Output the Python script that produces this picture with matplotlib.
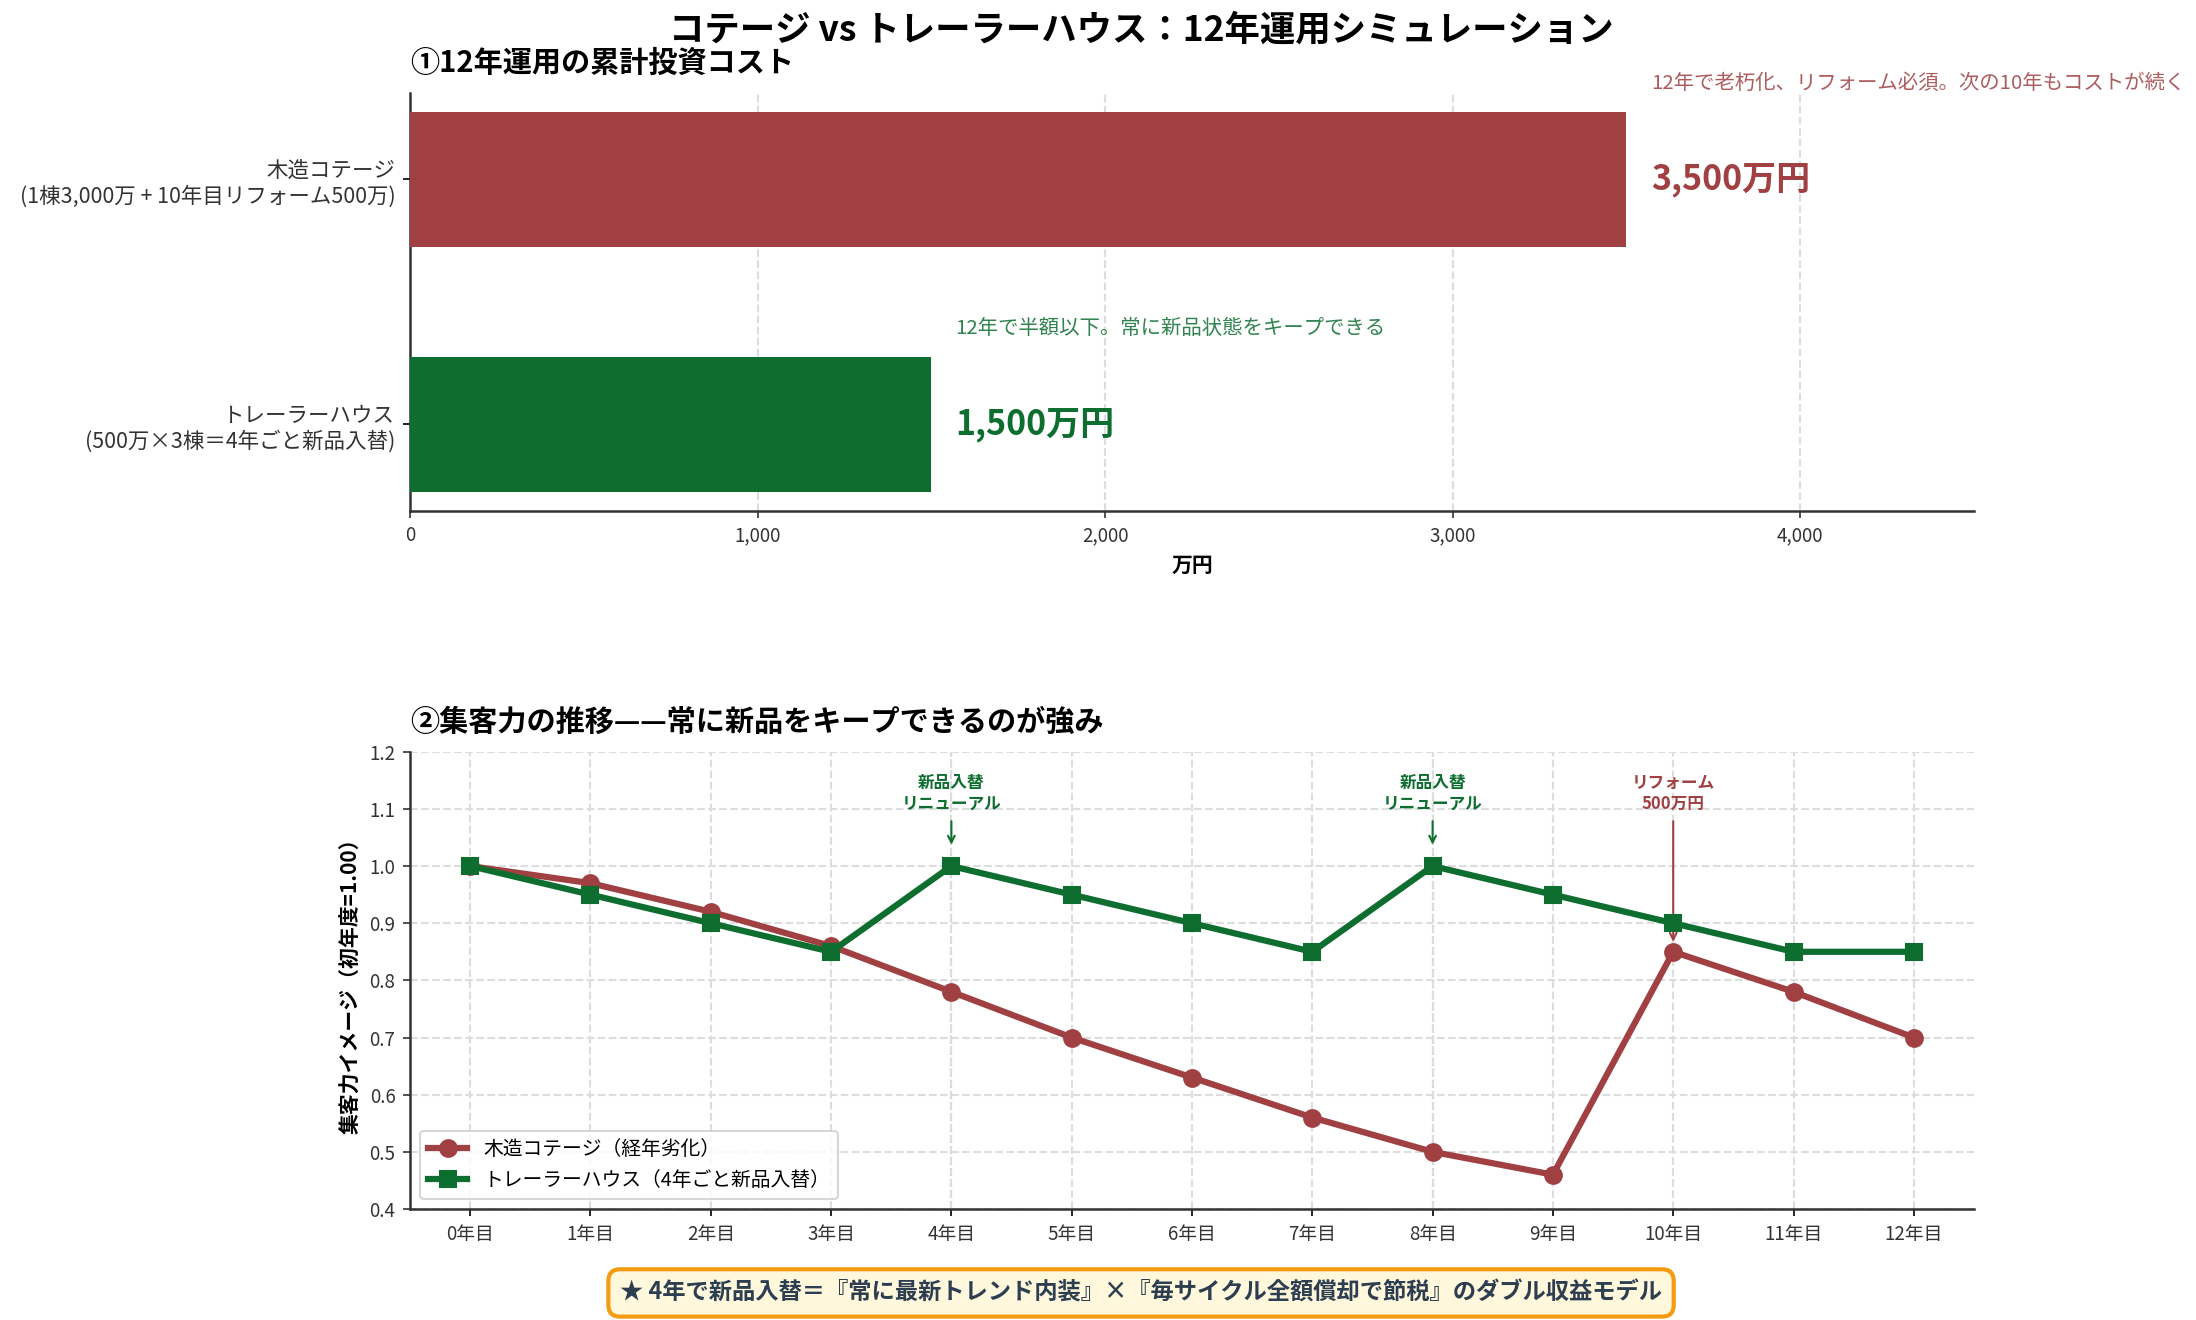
import matplotlib
matplotlib.use("Agg")
import matplotlib.pyplot as plt
from matplotlib.ticker import FuncFormatter, MultipleLocator

plt.rcParams['font.family'] = ['Noto Sans CJK JP', 'DejaVu Sans']

# ---------------- data ----------------
categories = ['木造コテージ\n(1棟3,000万 + 10年目リフォーム500万)',
              'トレーラーハウス\n(500万×3棟＝4年ごと新品入替)']
costs = [3500, 1500]
notes = ['12年で老朽化、リフォーム必須。次の10年もコストが続く',
         '12年で半額以下。常に新品状態をキープできる']

years = list(range(13))
year_labels = [f'{y}年目' for y in years]
cottage = [1.00, 0.97, 0.92, 0.86, 0.78, 0.70, 0.63, 0.56, 0.50, 0.46, 0.85, 0.78, 0.70]
trailer = [1.00, 0.95, 0.90, 0.85, 1.00, 0.95, 0.90, 0.85, 1.00, 0.95, 0.90, 0.85, 0.85]
series_names = ['木造コテージ（経年劣化）', 'トレーラーハウス（4年ごと新品入替）']

renew_years = [4, 8]
renew_text = '新品入替\nリニューアル'
reform_year = 10
reform_text = 'リフォーム\n500万円'

RED = '#a04042'
GREEN = '#0d6e30'
DARK = '#333333'

fig = plt.figure(figsize=(14.64, 8.8), dpi=150)
fig.patch.set_facecolor('white')

# ---------------- top chart ----------------
ax1 = fig.add_axes([0.1867, 0.6131, 0.7122, 0.3167])
ypos = list(range(len(categories)))
colors = [RED, GREEN]
ax1.barh(ypos, costs, height=0.55, color=colors, zorder=3)
ax1.invert_yaxis()
ax1.set_yticks(ypos)
ax1.set_yticklabels(categories, fontsize=10.3, color=DARK)
ax1.set_xlim(0, 4500)
ax1.xaxis.set_major_locator(MultipleLocator(1000))
ax1.xaxis.set_major_formatter(FuncFormatter(lambda v, p: f'{int(v):,}'))
ax1.tick_params(axis='x', labelsize=9, colors=DARK)
ax1.set_xlabel('万円', fontsize=10, fontweight='bold')
ax1.grid(axis='x', linestyle='--', color='#dddddd', linewidth=1, zorder=0)
for s in ['top', 'right']:
    ax1.spines[s].set_visible(False)
for s in ['left', 'bottom']:
    ax1.spines[s].set_color(DARK)
    ax1.spines[s].set_linewidth(1.2)
for y, v, c, n in zip(ypos, costs, colors, notes):
    ax1.text(v + 70, y, f'{v:,}万円', va='center', ha='left', fontsize=16.3,
             fontweight='bold', color=c)
    ax1.text(v + 70, y - 0.39, n, va='center', ha='left', fontsize=9.8,
             color=c, alpha=0.85)
ax1.set_title('①12年運用の累計投資コスト', loc='left', fontsize=14,
              fontweight='bold', pad=10)

# ---------------- bottom chart ----------------
ax2 = fig.add_axes([0.1867, 0.0841, 0.7122, 0.3464])
ax2.plot(years, cottage, color=RED, lw=3, marker='o', markersize=8,
         label=series_names[0], zorder=4)
ax2.plot(years, trailer, color=GREEN, lw=3, marker='s', markersize=8,
         label=series_names[1], zorder=4)
for ry in renew_years:
    ax2.axvline(ry, color='#5f7f6f', linestyle=':', linewidth=1, alpha=0.8, zorder=1)
    ax2.annotate(renew_text, xy=(ry, 1.03), xytext=(ry, 1.10), ha='center',
                 fontsize=8, fontweight='bold', color=GREEN,
                 arrowprops=dict(arrowstyle='->', color=GREEN, lw=1))
ax2.annotate(reform_text, xy=(reform_year, 0.86), xytext=(reform_year, 1.10),
             ha='center', fontsize=8, fontweight='bold', color=RED,
             arrowprops=dict(arrowstyle='->', color=RED, lw=1))
ax2.set_xlim(-0.5, 12.5)
ax2.set_ylim(0.4, 1.2)
ax2.set_xticks(years)
ax2.set_xticklabels(year_labels, fontsize=9, color=DARK)
ax2.yaxis.set_major_locator(MultipleLocator(0.1))
ax2.yaxis.set_major_formatter(FuncFormatter(lambda v, p: f'{v:.1f}'))
ax2.tick_params(axis='y', labelsize=9, colors=DARK)
ax2.set_ylabel('集客力イメージ（初年度=1.00）', fontsize=10, fontweight='bold')
ax2.grid(True, linestyle='--', color='#dddddd', linewidth=1, zorder=0)
for s in ['top', 'right']:
    ax2.spines[s].set_visible(False)
for s in ['left', 'bottom']:
    ax2.spines[s].set_color(DARK)
    ax2.spines[s].set_linewidth(1.2)
ax2.legend(loc='lower left', fontsize=9.5, frameon=True, fancybox=True,
           edgecolor='#cccccc')
ax2.set_title('②集客力の推移——常に新品をキープできるのが強み', loc='left',
              fontsize=14, fontweight='bold', pad=10)

fig.suptitle('コテージ vs トレーラーハウス：12年運用シミュレーション',
             x=0.5196, y=0.977, va='center', fontsize=17, fontweight='bold')

fig.text(0.5196, 0.0205,
         '★ 4年で新品入替＝『常に最新トレンド内装』×『毎サイクル全額償却で節税』のダブル収益モデル',
         ha='center', va='center', fontsize=11.2, fontweight='bold', color='#2c3e50',
         bbox=dict(boxstyle='round,pad=0.5', facecolor='#fff8dc',
                   edgecolor='#f39c12', linewidth=2))

fig.savefig('out.png', dpi=150, facecolor='white')
